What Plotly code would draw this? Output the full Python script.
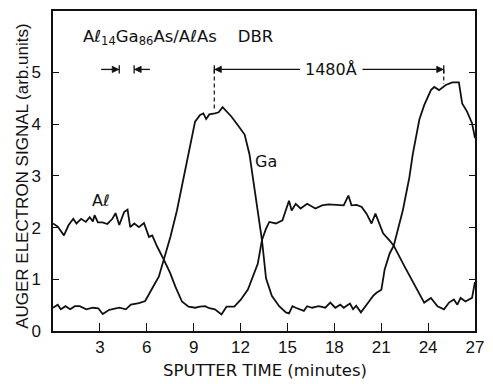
import plotly.graph_objects as go

# ---- data ----
al_time = [0.0, 0.3, 0.7, 1.0, 1.3, 1.5, 1.8, 2.1, 2.35, 2.55, 2.66, 2.87, 3.16, 3.48, 3.8, 4.0,
           4.24, 4.55, 4.77, 4.94, 5.2, 5.5, 5.82, 6.14, 6.35, 6.67, 7.09, 7.5, 7.83, 8.25, 8.67,
           9.1, 9.4, 9.73, 10.0, 10.36, 10.78, 11.1, 11.6, 12.0, 12.47, 12.8, 13.1, 13.37, 13.63,
           13.84, 14.26, 14.68, 14.9, 15.1, 15.27, 15.53, 15.84, 16.26, 16.79, 17.21, 17.63, 18.27,
           18.6, 18.9, 19.1, 19.43, 19.75, 20.06, 20.38, 20.63, 20.9, 21.12, 21.54, 21.8, 22.49,
           23.12, 23.75, 24.18, 24.6, 25.02, 25.34, 25.65, 25.87, 26.08, 26.39, 26.81, 27.0]
al_signal = [2.08, 2.02, 1.85, 2.05, 2.17, 2.08, 2.17, 2.11, 2.2, 2.12, 2.24, 2.1, 2.1, 2.07, 2.17, 2.28,
             2.05, 2.3, 2.35, 2.01, 2.08, 2.01, 2.09, 1.82, 1.85, 1.63, 1.38, 1.12, 0.86, 0.57, 0.47,
             0.45, 0.47, 0.48, 0.44, 0.42, 0.32, 0.47, 0.47, 0.6, 0.8, 1.05, 1.3, 1.76, 1.98,
             2.11, 2.08, 2.14, 2.33, 2.52, 2.33, 2.46, 2.37, 2.46, 2.37, 2.43, 2.45, 2.43,
             2.43, 2.62, 2.43, 2.44, 2.40, 2.27, 2.08, 2.27, 2.05, 1.89, 1.75, 1.65, 1.25,
             0.9, 0.55, 0.64, 0.48, 0.42, 0.55, 0.61, 0.51, 0.64, 0.57, 0.64, 0.95]

ga_time = [0.0, 0.3, 0.5, 0.8, 1.1, 1.4, 1.71, 2.13, 2.55, 2.9, 3.18, 3.6, 4.24, 4.66, 4.98, 5.5,
           5.9, 6.14, 6.45, 6.77, 7.09, 7.51, 7.93, 8.35, 8.67, 9.09, 9.41, 9.62, 9.8, 10.0,
           10.36, 10.6, 10.85, 11.0, 11.41, 11.9, 12.26, 12.57, 12.85, 13.1, 13.37, 13.63, 14.0,
           14.47, 14.9, 15.1, 15.32, 15.53, 15.75, 16.05, 16.26, 16.58, 17.0, 17.42, 17.74, 18.06,
           18.38, 18.6, 19.0, 19.2, 19.4, 19.7, 20.17, 20.48, 20.7, 21.01, 21.22, 21.54, 21.8,
           22.17, 22.38, 22.59, 22.8, 23.02, 23.23, 23.44, 23.75, 24.18, 24.39, 24.7, 25.13,
           25.55, 25.97, 26.18, 26.5, 26.81, 27.0]
ga_signal = [0.45, 0.51, 0.42, 0.48, 0.42, 0.48, 0.48, 0.42, 0.45, 0.44, 0.33, 0.41, 0.45, 0.42, 0.51, 0.54,
             0.58, 0.7, 0.88, 1.05, 1.38, 1.82, 2.33, 2.97, 3.48, 4.05, 4.18, 4.21, 4.1, 4.19,
             4.21, 4.23, 4.33, 4.28, 4.15, 3.95, 3.8, 3.42, 2.85, 2.3, 1.76, 1.02, 0.68,
             0.48, 0.36, 0.34, 0.48, 0.45, 0.42, 0.39, 0.48, 0.45, 0.48, 0.45, 0.55, 0.45,
             0.51, 0.45, 0.53, 0.42, 0.49, 0.36, 0.55, 0.68, 0.74, 0.80, 1.19, 1.5, 1.65,
             2.08, 2.33, 2.65, 2.97, 3.42, 3.73, 4.09, 4.37, 4.66, 4.72, 4.66, 4.76,
             4.81, 4.81, 4.4, 4.24, 4.02, 3.73]

x_ticks = [3, 6, 9, 12, 15, 18, 21, 24, 27]
y_ticks = [0, 1, 2, 3, 4, 5]

# annotation positions (data units)
period_start, period_end, arrow_level = 10.32, 25.0, 5.06
layer_left, layer_right = 4.24, 5.19

FONT = "Liberation Sans, Arial, sans-serif"
WIDE = "DejaVu Sans, Liberation Sans, sans-serif"
INK = "#111111"

fig = go.Figure()
fig.add_trace(go.Scatter(x=al_time, y=al_signal, mode="lines",
                         line=dict(color=INK, width=1.8), showlegend=False))
fig.add_trace(go.Scatter(x=ga_time, y=ga_signal, mode="lines",
                         line=dict(color=INK, width=1.8), showlegend=False))

shapes = []
line_style = dict(color=INK, width=1.3)
# vertical bars at the arrow tips
for xb in (layer_left, layer_right, period_start, period_end):
    shapes.append(dict(type="line", xref="x", yref="y", x0=xb, x1=xb,
                       y0=arrow_level - 0.08, y1=arrow_level + 0.08, line=line_style))
# dashed drop lines to Ga peaks
shapes.append(dict(type="line", xref="x", yref="y", x0=period_start, x1=period_start,
                   y0=arrow_level, y1=4.25, line=dict(color=INK, width=1.2, dash="4px,3px")))
shapes.append(dict(type="line", xref="x", yref="y", x0=period_end, x1=period_end,
                   y0=arrow_level, y1=4.78, line=dict(color=INK, width=1.2, dash="4px,3px")))

HEAD_DX, HEAD_DY = 0.42, 0.06   # arrowhead length (x units) and half height (y units)

def arrow(tip_x, tail_x, y):
    d = 1 if tip_x > tail_x else -1
    base = tip_x - d * HEAD_DX
    shapes.append(dict(type="line", xref="x", yref="y", x0=tail_x, x1=base, y0=y, y1=y,
                       line=line_style))
    shapes.append(dict(type="path", xref="x", yref="y",
                       path=f"M {tip_x} {y} L {base} {y + HEAD_DY} L {base} {y - HEAD_DY} Z",
                       fillcolor=INK, line=dict(color=INK, width=0.8)))

arrow(layer_left - 0.03, 3.08, arrow_level)
arrow(layer_right + 0.03, 6.2, arrow_level)
arrow(period_start + 0.03, 15.8, arrow_level)
arrow(period_end - 0.03, 19.8, arrow_level)

annotations = [
    dict(x=17.8, y=arrow_level, xref="x", yref="y", text="1480Å", showarrow=False,
         font=dict(family=WIDE, size=16, color=INK)),
    dict(x=1.8, y=5.68, xref="x", yref="y", xanchor="left",
         text="Aℓ<sub>14</sub>Ga<sub>86</sub>As/AℓAs\u00a0\u00a0\u00a0\u00a0DBR", showarrow=False,
         font=dict(family=WIDE, size=16.5, color=INK)),
    dict(x=3.1, y=2.52, xref="x", yref="y", text="Aℓ", showarrow=False,
         font=dict(family=WIDE, size=16, color=INK)),
    dict(x=13.65, y=3.27, xref="x", yref="y", text="Ga", showarrow=False,
         font=dict(family=WIDE, size=16, color=INK)),
    dict(x=0.5035, y=-0.124, xref="paper", yref="paper", text="SPUTTER TIME (minutes)",
         showarrow=False, yanchor="middle", font=dict(family=WIDE, size=16.5, color=INK)),
    dict(x=-0.0726, y=0.0, xref="paper", yref="paper", text="AUGER ELECTRON SIGNAL (arb.units)",
         showarrow=False, textangle=-90, xanchor="center", yanchor="bottom",
         font=dict(family=FONT, size=17, color=INK)),
]

fig.update_layout(
    width=493, height=384,
    margin=dict(l=53, r=13, t=9, b=53),
    paper_bgcolor="white", plot_bgcolor="white",
    font=dict(family=FONT, size=17, color=INK),
    shapes=shapes, annotations=annotations,
    xaxis=dict(range=[0, 27], tickvals=x_ticks, ticktext=[str(v) for v in x_ticks],
               ticks="inside", ticklen=8, tickwidth=1.3, tickcolor=INK,
               showline=True, linecolor=INK, linewidth=1.5, mirror=True,
               showgrid=False, zeroline=False, ticklabelstandoff=0,
               tickfont=dict(family=FONT, size=17, color=INK)),
    yaxis=dict(range=[0, 6.19], tickvals=y_ticks, ticktext=[str(v) for v in y_ticks],
               ticks="inside", ticklen=6, tickwidth=1.3, tickcolor=INK,
               showline=True, linecolor=INK, linewidth=1.5, mirror="ticks",
               showgrid=False, zeroline=False, ticklabelstandoff=7,
               tickfont=dict(family=FONT, size=17, color=INK)),
)

fig.write_html("out.html")
